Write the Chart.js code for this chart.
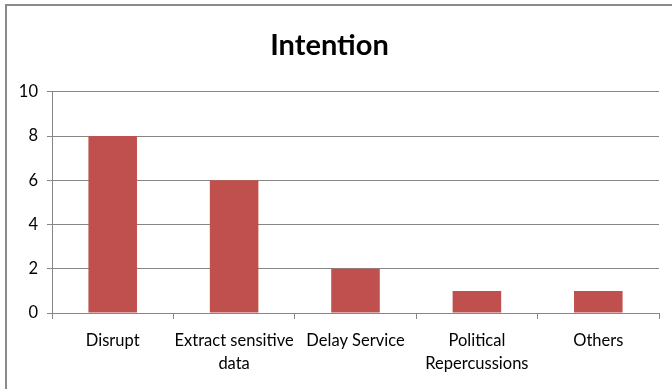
<!DOCTYPE html>
<html>
<head>
<meta charset="utf-8">
<script src="https://cdn.jsdelivr.net/npm/chart.js@4/dist/chart.umd.min.js"></script>
<style>
  html, body { margin: 0; padding: 0; background: #fff; }
  #wrap { position: relative; width: 672px; height: 389px; }
  #frame { position: absolute; left: 5px; top: 4px; right: 0; bottom: 0;
           border-left: 2px solid #8a8a8a; border-top: 2px solid #8a8a8a; pointer-events: none; }
  canvas { display: block; }
</style>
</head>
<body>
<div id="wrap">
  <canvas id="chart" width="672" height="389"></canvas>
  <div id="frame"></div>
</div>
<script>
// Category labels (multi-line where the axis wraps them)
const categories = [
  'Disrupt',
  ['Extract sensitive', 'data'],
  'Delay Service',
  ['Political', 'Repercussions'],
  'Others'
];
// Number of cases per intention
const counts = [8, 6, 2, 1, 1];
// Value axis ticks
const yTicks = [0, 2, 4, 6, 8, 10];

const FONT = 'Lato, "Open Sans", "Liberation Sans", sans-serif';
const GRID = '#868686';

new Chart(document.getElementById('chart'), {
  type: 'bar',
  data: {
    labels: categories,
    datasets: [{
      label: 'Intention',
      data: counts,
      backgroundColor: '#C0504D',
      borderWidth: 0,
      barPercentage: 0.4,
      categoryPercentage: 1.0
    }]
  },
  options: {
    responsive: false,
    animation: false,
    layout: { padding: { left: 0, right: 13, top: 0, bottom: 0 } },
    plugins: {
      legend: { display: false },
      tooltip: { enabled: false },
      title: {
        display: true,
        text: 'Intention',
        color: '#000',
        font: { family: FONT, size: 29, weight: 'bold', lineHeight: 1.2 },
        padding: { top: 28, bottom: 29 }
      }
    },
    scales: {
      x: {
        grid: { drawOnChartArea: false, color: GRID, tickLength: 6, offset: true },
        border: { color: GRID, width: 1 },
        ticks: {
          color: '#000',
          font: { family: FONT, size: 16.5, lineHeight: 1.4 },
          padding: 10,
          maxRotation: 0,
          autoSkip: false
        },
        afterFit: (s) => { s.height = 76; }
      },
      y: {
        min: 0,
        max: 10,
        afterBuildTicks: (s) => { s.ticks = yTicks.map(v => ({ value: v })); },
        grid: { color: GRID, tickLength: 5 },
        border: { color: GRID, width: 1 },
        ticks: {
          color: '#000',
          font: { family: FONT, size: 16.5 },
          padding: 9
        },
        afterFit: (s) => { s.width = 52; }
      }
    }
  }
});
</script>
</body>
</html>
